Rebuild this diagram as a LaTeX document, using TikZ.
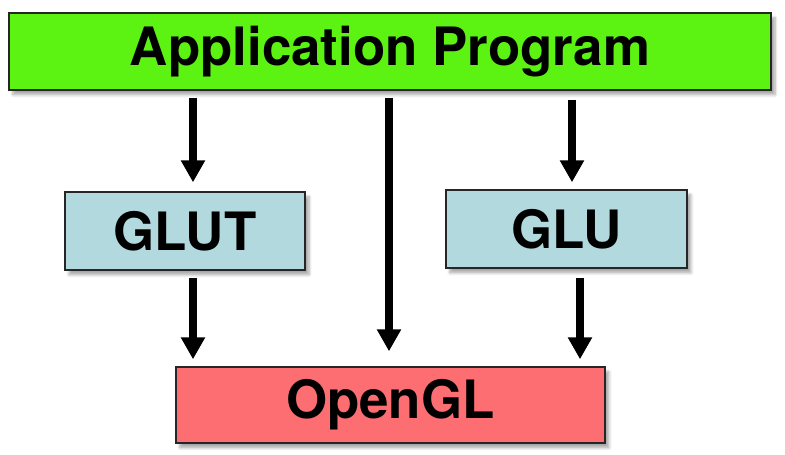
\documentclass[tikz,border=0pt]{standalone}
\usepackage{fontspec}
\setmainfont{TeX Gyre Heros}
\usepackage{tikz}
\usetikzlibrary{arrows.meta,shadows.blur}

\definecolor{appgreen}{RGB}{92,242,18}
\definecolor{libblue}{RGB}{178,218,222}
\definecolor{glred}{RGB}{252,110,114}

\begin{document}
\begin{tikzpicture}[x=1cm,y=1cm,>=Stealth,
    every node/.style={font=\fontsize{37.6}{45}\selectfont\bfseries},
    layerbox/.style={draw=black!85,line width=1pt,
      blur shadow={shadow xshift=0.1cm,shadow yshift=-0.12cm,shadow blur steps=6,shadow opacity=35}},
    arr/.style={line width=5pt,-{Triangle[width=0.575cm,length=0.55cm]}}]
  \useasboundingbox (0,0) rectangle (19.625,11.375);

  \node[layerbox,fill=appgreen,minimum width=19.05cm,minimum height=1.925cm] (app) at (9.75,10.09) {Application Program};
  \node[layerbox,fill=libblue,minimum width=6cm,minimum height=1.95cm] (glut) at (4.625,5.6) {GLUT};
  \node[layerbox,fill=libblue,minimum width=6.025cm,minimum height=1.95cm] (glu) at (14.16,5.65) {GLU};
  \node[layerbox,fill=glred,minimum width=10.725cm,minimum height=1.9cm] (opengl) at (9.76,1.25) {OpenGL};

  \draw[arr,shorten <=0.175cm,shorten >=0.225cm] ([xshift=0.2cm]glut.north |- app.south) -- ([xshift=0.2cm]glut.north);
  \draw[arr,shorten <=0.175cm,shorten >=0.375cm] ([xshift=-0.025cm]app.south) -- ([xshift=-0.025cm]app.south |- opengl.north);
  \draw[arr,shorten <=0.225cm,shorten >=0.175cm] ([xshift=0.14cm]glu.north |- app.south) -- ([xshift=0.14cm]glu.north);

  \draw[arr,shorten <=0.175cm,shorten >=0.175cm] ([xshift=0.2cm]glut.south) -- ([xshift=0.2cm]glut.south |- opengl.north);
  \draw[arr,shorten <=0.225cm,shorten >=0.175cm] ([xshift=0.34cm]glu.south) -- ([xshift=0.34cm]glu.south |- opengl.north);
\end{tikzpicture}
\end{document}
